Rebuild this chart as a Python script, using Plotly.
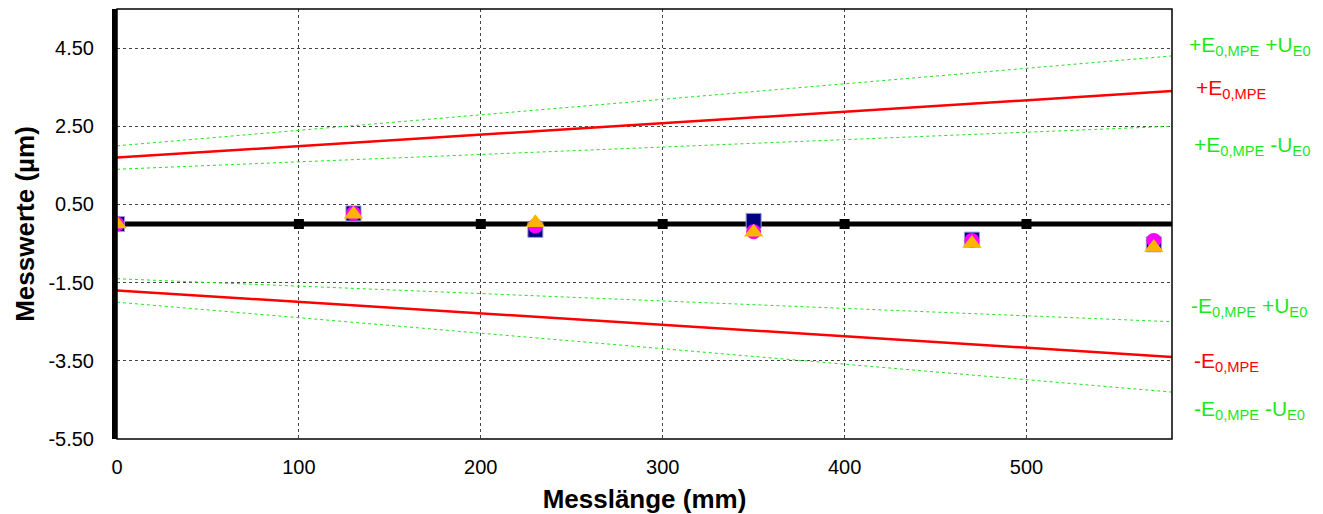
import plotly.graph_objects as go

# ---- data ----
lengths = [0, 130, 230, 350, 470, 570]
series_square = [0.0, 0.27, -0.15, 0.08, -0.40, -0.52]
series_circle = [0.0, 0.27, -0.05, -0.20, -0.42, -0.42]
series_triangle = [0.0, 0.25, 0.03, -0.21, -0.50, -0.60]

limit_x = [0, 580]
plus_mpe = [1.7, 3.4]
minus_mpe = [-1.7, -3.4]
plus_mpe_plus_u = [2.0, 4.3]
plus_mpe_minus_u = [1.4, 2.5]
minus_mpe_plus_u = [-1.4, -2.5]
minus_mpe_minus_u = [-2.0, -4.3]

baseline_x = [0, 580]
baseline_y = [0, 0]
baseline_mark_x = [0, 100, 200, 300, 400, 500]
baseline_mark_y = [0, 0, 0, 0, 0, 0]

x_ticks = [0, 100, 200, 300, 400, 500]
y_ticks = [-5.5, -3.5, -1.5, 0.5, 2.5, 4.5]
y_tick_labels = ["-5.50", "-3.50", "-1.50", "0.50", "2.50", "4.50"]

labels = [
    ("+E<sub>0,MPE</sub> +U<sub>E0</sub>", 4.56, "green", 15),
    ("+E<sub>0,MPE</sub>", 3.46, "red", 22),
    ("+E<sub>0,MPE</sub> -U<sub>E0</sub>", 2.0, "green", 20),
    ("-E<sub>0,MPE</sub> +U<sub>E0</sub>", -2.13, "green", 17),
    ("-E<sub>0,MPE</sub>", -3.53, "red", 20),
    ("-E<sub>0,MPE</sub> -U<sub>E0</sub>", -4.76, "green", 20),
]

GREEN = "#1ee61e"
RED = "#ff0000"
FONT = "Arial, Liberation Sans, sans-serif"

fig = go.Figure()

# limit lines
for ys in (plus_mpe_plus_u, plus_mpe_minus_u, minus_mpe_plus_u, minus_mpe_minus_u):
    fig.add_trace(go.Scatter(x=limit_x, y=ys, mode="lines",
                             line=dict(color=GREEN, width=1, dash="dot"),
                             hoverinfo="skip", showlegend=False))
for ys in (plus_mpe, minus_mpe):
    fig.add_trace(go.Scatter(x=limit_x, y=ys, mode="lines",
                             line=dict(color=RED, width=2.5),
                             hoverinfo="skip", showlegend=False))

# baseline
fig.add_trace(go.Scatter(x=baseline_x, y=baseline_y, mode="lines",
                         line=dict(color="black", width=5), showlegend=False))
fig.add_trace(go.Scatter(x=baseline_mark_x, y=baseline_mark_y, mode="markers",
                         marker=dict(symbol="square", size=10, color="black"),
                         showlegend=False))

# measurement series
fig.add_trace(go.Scatter(x=lengths, y=series_square, mode="markers",
                         marker=dict(symbol="square", size=15, color="#000080",
                                     line=dict(color="#9999dd", width=1)),
                         showlegend=False))
fig.add_trace(go.Scatter(x=lengths, y=series_circle, mode="markers",
                         marker=dict(symbol="circle", size=15, color="#ff00ff",
                                     line=dict(width=0)),
                         showlegend=False))
fig.add_trace(go.Scatter(x=lengths, y=series_triangle, mode="markers",
                         marker=dict(symbol="triangle-up", size=17, color="#ffb400",
                                     line=dict(width=0)),
                         showlegend=False))

for text, yv, col, xs in labels:
    fig.add_annotation(x=1, xref="paper", y=yv, yref="y", text=text,
                       showarrow=False, xanchor="left", yanchor="middle",
                       xshift=xs,
                       font=dict(family=FONT, size=21,
                                 color=GREEN if col == "green" else RED))

# plot border (thin)
fig.add_shape(type="rect", xref="paper", yref="paper", x0=0, y0=0, x1=1, y1=1,
              line=dict(color="black", width=1.5), layer="above")

# page body has an 8px default margin, so the figure is sized to fit the window
fig.update_layout(
    width=1315, height=506,
    margin=dict(l=109, r=151, t=1, b=75, autoexpand=False),
    paper_bgcolor="white", plot_bgcolor="white",
    font=dict(family=FONT, size=20, color="black"),
    showlegend=False,
    xaxis=dict(range=[0, 580], tickvals=x_ticks, ticks="", showgrid=True,
               gridcolor="#444444", griddash="dot", gridwidth=1, automargin=False,
               zeroline=False, showline=False, ticklabelstandoff=14,
               title=dict(text="<b>Messlänge (mm)</b>", font=dict(size=26), standoff=14)),
    yaxis=dict(range=[-5.5, 5.5], tickvals=y_ticks, ticktext=y_tick_labels, ticks="",
               showgrid=True, gridcolor="#444444", griddash="dot", gridwidth=1,
               automargin=False,
               zeroline=False, showline=True, linecolor="black", linewidth=5,
               ticklabelstandoff=14,
               title=dict(text="<b>Messwerte (µm)</b>", font=dict(size=26), standoff=8)),
)

fig.write_html("out.html")
